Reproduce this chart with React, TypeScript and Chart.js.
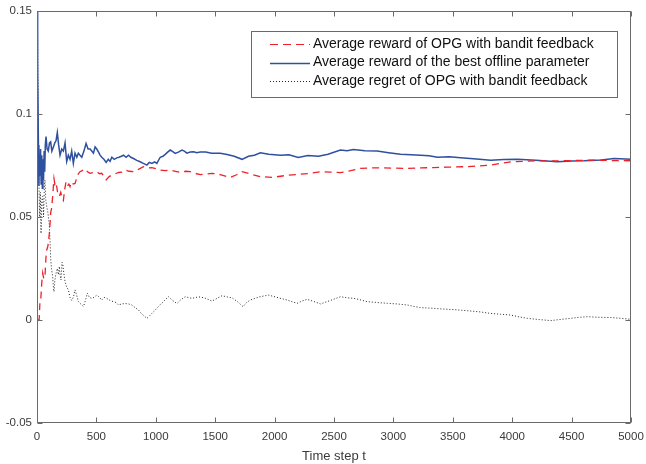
import React, { useEffect, useRef } from "react";
import { Chart, registerables } from "chart.js";
Chart.register(...registerables);

// ---- data ----
const seriesLabels = [
  "Average reward of OPG with bandit feedback",
  "Average reward of the best offline parameter",
  "Average regret of OPG with bandit feedback",
];

const xTickValues = [0, 500, 1000, 1500, 2000, 2500, 3000, 3500, 4000, 4500, 5000];
const yTickValues = [-0.05, 0, 0.05, 0.1, 0.15];
const yTickLabels = ["-0.05", "0", "0.05", "0.1", "0.15"];
const xAxisTitle = "Time step t";

const tBest = [0, 3, 8, 12, 16, 20, 25, 30, 35, 40, 45, 50, 55, 60, 65, 70, 76, 85, 95, 105, 115, 125, 138, 150, 160, 171, 182, 194, 208, 222, 236, 250, 264, 278, 292, 306, 320, 335, 348, 362, 377, 395, 413, 430, 447, 461, 475, 489, 503, 517, 531, 545, 563, 582, 600, 615, 630, 650, 672, 690, 710, 728, 750, 770, 790, 812, 840, 868, 895, 925, 945, 967, 990, 1009, 1037, 1060, 1079, 1100, 1121, 1140, 1163, 1190, 1220, 1240, 1262, 1290, 1318, 1345, 1374, 1420, 1470, 1543, 1600, 1660, 1726, 1780, 1830, 1880, 1950, 2049, 2120, 2200, 2280, 2369, 2450, 2554, 2610, 2664, 2760, 2863, 2960, 3060, 3150, 3229, 3300, 3370, 3470, 3566, 3700, 3819, 3930, 4044, 4200, 4381, 4500, 4606, 4750, 4857, 5000];
const best = [0.15, 0.15, 0.12, 0.085, 0.065, 0.08, 0.07, 0.083, 0.066, 0.08, 0.064, 0.078, 0.068, 0.082, 0.072, 0.085, 0.089, 0.083, 0.082, 0.086, 0.0865, 0.082, 0.084, 0.086, 0.087, 0.091, 0.085, 0.08, 0.083, 0.082, 0.086, 0.077, 0.08, 0.078, 0.082, 0.076, 0.081, 0.079, 0.081, 0.08, 0.079, 0.082, 0.0857, 0.083, 0.083, 0.082, 0.081, 0.084, 0.083, 0.0816, 0.08, 0.079, 0.078, 0.0765, 0.078, 0.077, 0.079, 0.078, 0.0787, 0.079, 0.0795, 0.08, 0.079, 0.08, 0.079, 0.0784, 0.0775, 0.0768, 0.076, 0.0752, 0.0765, 0.076, 0.0768, 0.076, 0.079, 0.0795, 0.0804, 0.0815, 0.0825, 0.0818, 0.0809, 0.0815, 0.0825, 0.082, 0.081, 0.0815, 0.0817, 0.0812, 0.0815, 0.0815, 0.081, 0.0809, 0.0803, 0.0795, 0.078, 0.0795, 0.08, 0.0812, 0.0805, 0.08, 0.0802, 0.0789, 0.0798, 0.0795, 0.0805, 0.0825, 0.0822, 0.0828, 0.0822, 0.082, 0.0812, 0.0805, 0.0802, 0.08, 0.0797, 0.079, 0.0792, 0.0788, 0.0782, 0.0776, 0.0779, 0.078, 0.0775, 0.0768, 0.0772, 0.0773, 0.0777, 0.0784, 0.078];

const tReward = [0, 10, 18, 22, 25, 32, 40, 48, 57, 67, 75, 82, 92, 104, 110, 115, 122, 132, 138, 143, 150, 158, 166, 176, 188, 200, 212, 222, 232, 244, 256, 268, 278, 290, 305, 320, 335, 348, 362, 380, 405, 425, 447, 470, 503, 525, 545, 565, 582, 605, 630, 660, 686, 715, 742, 775, 812, 850, 896, 930, 967, 1000, 1037, 1080, 1121, 1165, 1206, 1250, 1290, 1330, 1374, 1420, 1473, 1550, 1627, 1680, 1726, 1800, 1880, 1978, 2100, 2217, 2300, 2386, 2470, 2554, 2640, 2723, 2800, 2892, 3000, 3117, 3230, 3341, 3450, 3594, 3700, 3819, 3900, 3988, 4100, 4213, 4320, 4437, 4560, 4690, 4850, 5000];
const reward = [0, 0, 0, 0.005, 0.0097, 0.01, 0.018, 0.0228, 0.02, 0.021, 0.03, 0.034, 0.036, 0.042, 0.047, 0.052, 0.054, 0.06, 0.065, 0.0687, 0.066, 0.067, 0.0647, 0.061, 0.06, 0.062, 0.059, 0.058, 0.063, 0.067, 0.065, 0.066, 0.0647, 0.067, 0.066, 0.0663, 0.069, 0.071, 0.072, 0.0725, 0.0733, 0.072, 0.0712, 0.0715, 0.072, 0.071, 0.0712, 0.0695, 0.068, 0.0695, 0.0704, 0.071, 0.0716, 0.0718, 0.0728, 0.0722, 0.072, 0.073, 0.0744, 0.0738, 0.074, 0.0735, 0.0728, 0.0725, 0.0728, 0.0722, 0.0716, 0.0722, 0.072, 0.0712, 0.0706, 0.0708, 0.0712, 0.0705, 0.0692, 0.0705, 0.072, 0.0708, 0.0696, 0.0692, 0.0702, 0.0708, 0.0712, 0.072, 0.0718, 0.0715, 0.0725, 0.0736, 0.0738, 0.0739, 0.0737, 0.0736, 0.0738, 0.074, 0.0742, 0.0744, 0.0747, 0.0752, 0.076, 0.0768, 0.077, 0.0773, 0.0772, 0.0773, 0.0775, 0.0776, 0.0774, 0.0773];

const tRegret = [0, 3, 8, 12, 17, 22, 28, 34, 40, 48, 55, 62, 67, 74, 82, 92, 104, 110, 115, 122, 132, 138, 143, 150, 158, 166, 171, 180, 188, 194, 202, 211, 216, 225, 236, 250, 264, 278, 292, 306, 320, 334, 348, 362, 377, 391, 405, 424, 440, 461, 480, 503, 525, 545, 565, 587, 615, 643, 665, 686, 715, 742, 770, 798, 826, 854, 880, 905, 925, 945, 967, 990, 1009, 1037, 1065, 1085, 1107, 1140, 1178, 1210, 1248, 1280, 1304, 1340, 1374, 1420, 1473, 1515, 1557, 1600, 1641, 1690, 1734, 1765, 1796, 1870, 1950, 2030, 2105, 2150, 2190, 2230, 2274, 2330, 2386, 2470, 2554, 2610, 2667, 2720, 2779, 2860, 2948, 3030, 3117, 3170, 3229, 3330, 3426, 3520, 3623, 3720, 3819, 3900, 3988, 4060, 4129, 4230, 4325, 4410, 4494, 4560, 4635, 4730, 4831, 4920, 5000];
const regret = [0.15, 0.15, 0.12, 0.09, 0.065, 0.05, 0.062, 0.042, 0.058, 0.06, 0.05, 0.065, 0.068, 0.058, 0.055, 0.052, 0.046, 0.038, 0.03, 0.025, 0.021, 0.016, 0.0137, 0.019, 0.022, 0.024, 0.025, 0.022, 0.026, 0.0218, 0.0194, 0.028, 0.0275, 0.023, 0.0186, 0.016, 0.0146, 0.011, 0.0095, 0.011, 0.0146, 0.012, 0.009, 0.0081, 0.0073, 0.0065, 0.009, 0.013, 0.011, 0.0105, 0.011, 0.0121, 0.011, 0.0097, 0.011, 0.0105, 0.0095, 0.0089, 0.0085, 0.0073, 0.0078, 0.008, 0.0078, 0.0073, 0.006, 0.0049, 0.003, 0.0018, 0.0008, 0.0018, 0.0032, 0.0045, 0.0057, 0.0075, 0.0089, 0.0102, 0.0113, 0.0095, 0.008, 0.0098, 0.0113, 0.0108, 0.0105, 0.011, 0.0112, 0.0105, 0.0092, 0.0105, 0.0118, 0.0112, 0.0108, 0.0088, 0.0065, 0.0085, 0.0097, 0.0112, 0.0121, 0.0108, 0.0097, 0.0088, 0.0081, 0.0092, 0.01, 0.009, 0.0078, 0.0095, 0.0113, 0.0108, 0.0105, 0.0098, 0.0089, 0.0085, 0.0081, 0.0078, 0.0073, 0.0066, 0.006, 0.0057, 0.0053, 0.005, 0.0045, 0.004, 0.0032, 0.0028, 0.0024, 0.0015, 0.0008, 0.0002, -0.0003, 0.0003, 0.0008, 0.0013, 0.0016, 0.0013, 0.0012, 0.0008, 0.0003];

// ---- styles ----
const FONT = "'Liberation Sans', Arial, Helvetica, sans-serif";
const RED = "#f0202a";
const BLUE = "#2f4f9f";
const BLACK = "#222222";
const AXIS = "#6a6a6a";
const TEXT = "#3a3a3a";

const zip = (xs: number[], ys: number[]) => xs.map((x, i) => ({ x, y: ys[i] }));

const framePlugin = {
  id: "matlabFrame",
  afterDatasetsDraw(chart: any) {
    const { ctx, chartArea } = chart;
    const xs = chart.scales.x;
    const ys = chart.scales.y;
    const l = Math.round(chartArea.left) + 0.5;
    const r = Math.round(chartArea.right) - 0.5;
    const t = Math.round(chartArea.top) + 0.5;
    const b = Math.round(chartArea.bottom) - 0.5;
    ctx.save();
    ctx.strokeStyle = AXIS;
    ctx.lineWidth = 1;
    ctx.strokeRect(l, t, r - l, b - t);
    const tl = 5;
    ctx.beginPath();
    xTickValues.forEach((v) => {
      const px = Math.round(xs.getPixelForValue(v)) + 0.5;
      ctx.moveTo(px, b);
      ctx.lineTo(px, b - tl);
      ctx.moveTo(px, t);
      ctx.lineTo(px, t + tl);
    });
    yTickValues.forEach((v) => {
      const py = Math.round(ys.getPixelForValue(v)) + 0.5;
      ctx.moveTo(l, py);
      ctx.lineTo(l + tl, py);
      ctx.moveTo(r, py);
      ctx.lineTo(r - tl, py);
    });
    ctx.stroke();

    // legend
    const bx = 251.5, by = 31.5, bw = 366, bh = 66;
    ctx.fillStyle = "#ffffff";
    ctx.fillRect(bx, by, bw, bh);
    ctx.strokeStyle = AXIS;
    ctx.strokeRect(bx, by, bw, bh);
    const rows = [44, 62.5, 81];
    chart.data.datasets.forEach((ds: any, i: number) => {
      const y = Math.round(rows[i]) + 0.5;
      ctx.save();
      ctx.strokeStyle = ds.borderColor;
      ctx.lineWidth = i === 1 ? 1.3 : 1.2;
      ctx.setLineDash(i === 0 ? [8, 5] : i === 2 ? [1, 2] : []);
      ctx.beginPath();
      ctx.moveTo(270, y);
      ctx.lineTo(310, y);
      ctx.stroke();
      ctx.restore();
      ctx.fillStyle = "#111";
      ctx.font = `14px ${FONT}`;
      ctx.textBaseline = "middle";
      ctx.textAlign = "left";
      ctx.fillText(ds.label, 313, rows[i]);
    });
    ctx.restore();
  },
};

export default function App() {
  const ref = useRef<HTMLCanvasElement | null>(null);
  useEffect(() => {
    if (!ref.current) return;
    const chart = new Chart(ref.current, {
      type: "line",
      data: {
        datasets: [
          {
            label: seriesLabels[0],
            data: zip(tReward, reward),
            borderColor: RED,
            borderWidth: 1.3,
            borderDash: [7, 5],
            pointRadius: 0,
            tension: 0,
            fill: false,
          },
          {
            label: seriesLabels[1],
            data: zip(tBest, best),
            borderColor: BLUE,
            borderWidth: 1.5,
            pointRadius: 0,
            tension: 0,
            fill: false,
          },
          {
            label: seriesLabels[2],
            data: zip(tRegret, regret),
            borderColor: BLACK,
            borderWidth: 1,
            borderDash: [1, 2],
            pointRadius: 0,
            tension: 0,
            fill: false,
          },
        ],
      },
      options: {
        animation: false,
        responsive: false,
        maintainAspectRatio: false,
        layout: { padding: { top: 11, right: 15, left: 0, bottom: 0 } },
        plugins: {
          legend: { display: false },
          tooltip: { enabled: false },
        },
        scales: {
          x: {
            type: "linear",
            min: 0,
            max: 5000,
            grid: { display: false, drawTicks: false },
            border: { display: false },
            afterBuildTicks: (s: any) => {
              s.ticks = xTickValues.map((v) => ({ value: v }));
            },
            afterFit: (s: any) => {
              s.height = 41;
              s.paddingLeft = 0;
              s.paddingRight = 0;
            },
            ticks: {
              color: TEXT,
              font: { family: FONT, size: 11.5 },
              padding: 7,
              maxRotation: 0,
              autoSkip: false,
              callback: (v: any) => String(v),
            },
            title: {
              display: true,
              text: xAxisTitle,
              color: TEXT,
              font: { family: FONT, size: 13 },
              padding: { top: 0, bottom: 0 },
            },
          },
          y: {
            type: "linear",
            min: -0.05,
            max: 0.15,
            grid: { display: false, drawTicks: false },
            border: { display: false },
            afterBuildTicks: (s: any) => {
              s.ticks = yTickValues.map((v) => ({ value: v }));
            },
            afterFit: (s: any) => {
              s.width = 37;
              s.paddingTop = 0;
              s.paddingBottom = 0;
            },
            ticks: {
              color: TEXT,
              font: { family: FONT, size: 11.5 },
              padding: 5,
              autoSkip: false,
              callback: (v: any) => {
                const i = yTickValues.findIndex((tv) => Math.abs(tv - Number(v)) < 1e-9);
                return i >= 0 ? yTickLabels[i] : "";
              },
            },
          },
        },
      },
      plugins: [framePlugin],
    });
    return () => chart.destroy();
  }, []);
  return (
    <div style={{ position: "absolute", left: 0, top: 0, width: 646, height: 464, background: "#fff" }}>
      <canvas ref={ref} width={646} height={464} style={{ width: 646, height: 464, display: "block" }} />
    </div>
  );
}
